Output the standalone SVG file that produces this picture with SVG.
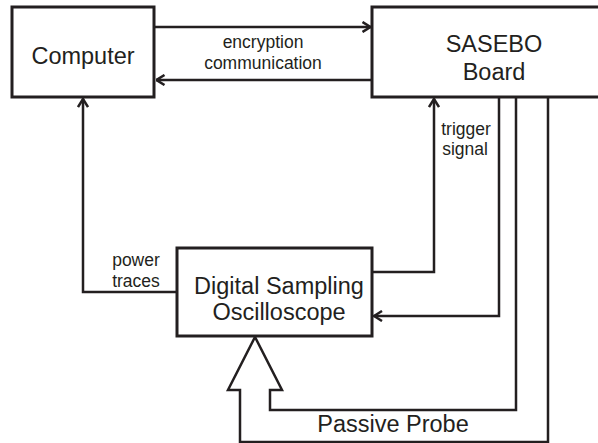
<svg xmlns="http://www.w3.org/2000/svg" width="598" height="443" viewBox="0 0 598 443">
<defs>
<style>
.box{fill:#fff;stroke:#231f20;stroke-width:3}
.ln{fill:none;stroke:#231f20;stroke-width:2.5}
.t{font-family:"Liberation Sans",Arial,sans-serif;fill:#231f20;text-anchor:middle}
.big{font-size:23.5px}
.sm{font-size:17.5px}
</style>
<marker id="ah" viewBox="0 0 10 12" refX="9.5" refY="6" markerWidth="10" markerHeight="12" markerUnits="userSpaceOnUse" orient="auto">
<polyline points="1,1 9,6 1,11" fill="none" stroke="#231f20" stroke-width="2.5"/>
</marker>
</defs>
<rect width="598" height="443" fill="#fff"/>
<g id="connectors">
<line class="ln" x1="155" y1="27" x2="371" y2="27" marker-end="url(#ah)"/>
<line class="ln" x1="371" y1="80" x2="156" y2="80" marker-end="url(#ah)"/>
<polyline class="ln" points="177,292 83,292 83,98.5" marker-end="url(#ah)"/>
<polyline class="ln" points="372,272 434,272 434,98.5" marker-end="url(#ah)"/>
<polyline class="ln" points="499,97 499,316 373.5,316" marker-end="url(#ah)"/>
<polyline class="ln" points="516,97 516,410 270,410 270,390 282,390 255,337 228,390 240,390 240,442 548,442 548,97"/>
</g>
<g id="computer">
<rect class="box" x="12" y="7" width="142" height="90"/>
<text class="t big" x="83" y="64">Computer</text>
</g>
<g id="sasebo">
<rect class="box" x="372" y="7" width="250" height="90"/>
<text class="t big" x="494" y="52">SASEBO</text>
<text class="t big" x="494" y="80">Board</text>
</g>
<g id="oscilloscope">
<rect class="box" x="177" y="248" width="195" height="88"/>
<text class="t big" x="279" y="294">Digital Sampling</text>
<text class="t big" x="279" y="320">Oscilloscope</text>
</g>
<g id="labels">
<text class="t sm" x="263" y="48">encryption</text>
<text class="t sm" x="263" y="69">communication</text>
<text class="t sm" x="466" y="135">trigger</text>
<text class="t sm" x="465" y="155">signal</text>
<text class="t sm" x="136" y="266">power</text>
<text class="t sm" x="136" y="287">traces</text>
<text class="t big" x="393" y="432">Passive Probe</text>
</g>
</svg>
